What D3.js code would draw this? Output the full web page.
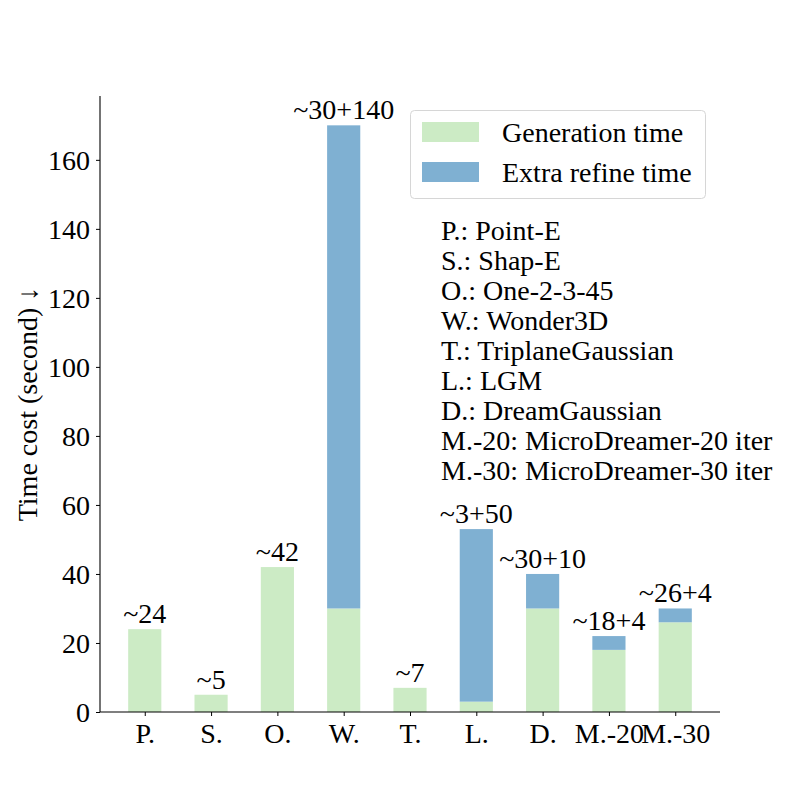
<!DOCTYPE html>
<html>
<head>
<meta charset="utf-8">
<script src="https://cdn.jsdelivr.net/npm/d3@7"></script>
<style>
  body { margin: 0; background: #fff; }
  svg text { font-family: "Liberation Serif", "Times New Roman", serif; fill: #000; }
</style>
</head>
<body>
<svg id="chart" width="800" height="800"></svg>
<script>
/* ── Data ─────────────────────────────────────────────────────── */
const categories  = ["P.", "S.", "O.", "W.", "T.", "L.", "D.", "M.-20", "M.-30"];
const genTime     = [24, 5, 42, 30, 7, 3, 30, 18, 26];
const refineTime  = [0, 0, 0, 140, 0, 50, 10, 4, 4];
const barLabels   = ["~24", "~5", "~42", "~30+140", "~7", "~3+50", "~30+10", "~18+4", "~26+4"];
const yTicks      = [0, 20, 40, 60, 80, 100, 120, 140, 160];
const legendNames = ["Generation time", "Extra refine time"];
const noteLines   = [
  "P.: Point-E", "S.: Shap-E", "O.: One-2-3-45", "W.: Wonder3D",
  "T.: TriplaneGaussian", "L.: LGM", "D.: DreamGaussian",
  "M.-20: MicroDreamer-20 iter", "M.-30: MicroDreamer-30 iter"
];

/* ── Constants ────────────────────────────────────────────────── */
const GEN_COLOR = "#ccebc5";
const REF_COLOR = "#7fb0d2";
const FONT = 28;
const BAR_W = 0.5;

const svg = d3.select("#chart");

const x = d3.scaleLinear().domain([-0.675, 8.675]).range([100, 720]);
const y = d3.scaleLinear().domain([0, 178.5]).range([712, 96]);
const bw = x(BAR_W) - x(0);

/* ── Bars ─────────────────────────────────────────────────────── */
const bars = svg.append("g");
bars.selectAll("rect.gen")
  .data(genTime)
  .enter().append("rect")
    .attr("class", "gen")
    .attr("x", (d, i) => x(i) - bw / 2)
    .attr("width", bw)
    .attr("y", d => y(d))
    .attr("height", d => y(0) - y(d))
    .attr("fill", GEN_COLOR);

bars.selectAll("rect.ref")
  .data(refineTime)
  .enter().append("rect")
    .attr("class", "ref")
    .attr("x", (d, i) => x(i) - bw / 2)
    .attr("width", bw)
    .attr("y", (d, i) => y(genTime[i] + d))
    .attr("height", d => y(0) - y(d))
    .attr("fill", REF_COLOR);

/* Value labels above each stack */
svg.append("g").selectAll("text")
  .data(barLabels)
  .enter().append("text")
    .attr("x", (d, i) => x(i))
    .attr("y", (d, i) => y(genTime[i] + refineTime[i]) - 6)
    .attr("text-anchor", "middle")
    .style("font-size", FONT + "px")
    .text(d => d);

/* ── Axes ─────────────────────────────────────────────────────── */
const yAxis = svg.append("g")
  .attr("transform", "translate(100,0)")
  .call(d3.axisLeft(y).tickValues(yTicks).tickSize(4).tickPadding(6));
yAxis.select(".domain").attr("d", `M0,${y(0)}V${y(178.5)}`).attr("stroke-width", 1.1);
yAxis.selectAll("text").style("font-size", FONT + "px").attr("dy", "0.34em");

const xAxis = svg.append("g")
  .attr("transform", `translate(0,${y(0)})`)
  .call(d3.axisBottom(x).tickValues(d3.range(categories.length))
    .tickFormat(i => categories[i]).tickSize(4).tickPadding(7));
xAxis.select(".domain").attr("d", `M${x.range()[0]},0H${x.range()[1]}`).attr("stroke-width", 1.1);
xAxis.selectAll("text").style("font-size", FONT + "px");

svg.append("text")
  .attr("transform", `translate(37,${(y(0) + y(178.5)) / 2}) rotate(-90)`)
  .attr("text-anchor", "middle")
  .style("font-size", FONT + "px")
  .text("Time cost (second) \u2193");

/* ── Legend ───────────────────────────────────────────────────── */
const legend = svg.append("g");
legend.append("rect")
  .attr("x", 410.5).attr("y", 110.5)
  .attr("width", 295).attr("height", 88)
  .attr("rx", 4)
  .attr("fill", "#fff").attr("fill-opacity", 0.8)
  .attr("stroke", "#d6d6d6");

const legendItems = legend.selectAll("g.item")
  .data(legendNames)
  .enter().append("g")
    .attr("class", "item")
    .attr("transform", (d, i) => `translate(0,${122 + i * 40})`);
legendItems.append("rect")
  .attr("x", 422).attr("width", 57).attr("height", 20)
  .attr("fill", (d, i) => i === 0 ? GEN_COLOR : REF_COLOR);
legendItems.append("text")
  .attr("x", 502).attr("y", 20)
  .style("font-size", FONT + "px")
  .text(d => d);

/* ── Abbreviation notes ───────────────────────────────────────── */
svg.append("g").selectAll("text")
  .data(noteLines)
  .enter().append("text")
    .attr("x", 441)
    .attr("y", (d, i) => 240 + i * 30)
    .style("font-size", FONT + "px")
    .text(d => d);
</script>
</body>
</html>
